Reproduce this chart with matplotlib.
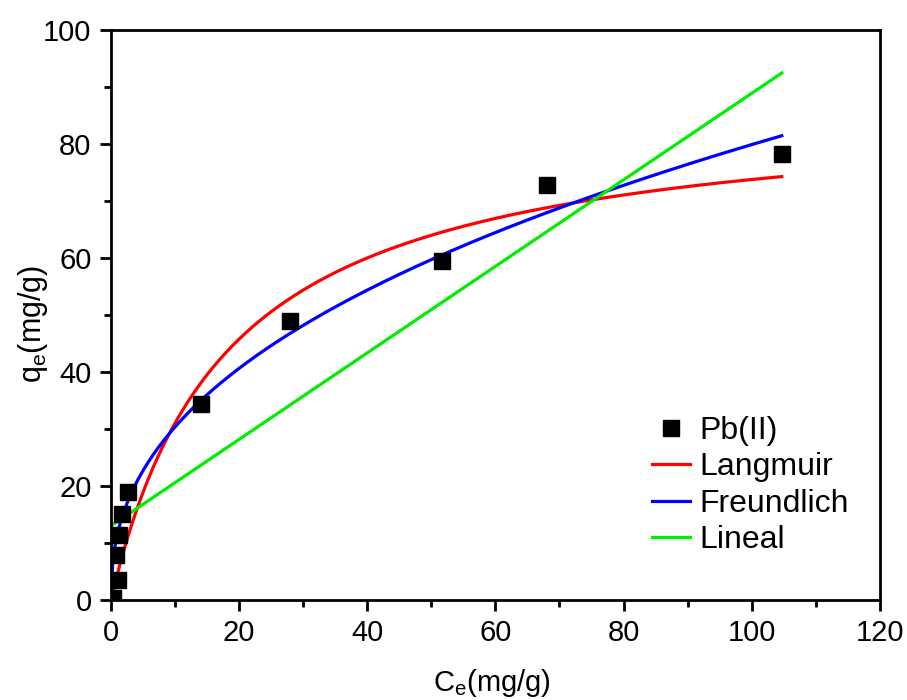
import numpy as np
import matplotlib.pyplot as plt

plt.rcParams['font.family'] = ['Liberation Sans', 'DejaVu Sans']
plt.rcParams['mathtext.fontset'] = 'custom'
plt.rcParams['mathtext.rm'] = 'Liberation Sans'

# === DATA ===
ce = [0.3, 1.1, 0.8, 1.2, 1.7, 2.65, 14.0, 27.9, 51.7, 68.1, 104.7]
qe = [0.4, 3.5, 7.9, 11.4, 15.1, 18.9, 34.4, 48.9, 59.5, 72.8, 78.2]

# fitted model parameters
langmuir_qmax = 87.1
langmuir_kl = 0.0554
freundlich_kf = 11.55
freundlich_inv_n = 0.42
lineal_intercept = 13.0
lineal_slope = 0.759

# === MODEL CURVES ===
c_fit = np.linspace(0, max(ce), 400)
q_lang = langmuir_qmax * langmuir_kl * c_fit / (1 + langmuir_kl * c_fit)
q_freu = freundlich_kf * c_fit ** freundlich_inv_n
q_lin = lineal_intercept + lineal_slope * c_fit

# === PLOT ===
fig = plt.figure(figsize=(9.07, 7.0), dpi=100)
ax = fig.add_axes([0.1224, 0.1429, 0.8476, 0.8141])

ax.plot(ce, qe, 's', color='black', markersize=11, label='Pb(II)', zorder=3)
ax.plot(c_fit, q_lang, color='#ff0000', lw=2.3, label='Langmuir')
ax.plot(c_fit, q_freu, color='#0000ff', lw=2.3, label='Freundlich')
ax.plot(c_fit, q_lin, color='#00ee00', lw=2.3, label='Lineal')

ax.set_xlim(0, 120)
ax.set_ylim(0, 100)
ax.set_xticks(np.arange(0, 121, 20))
ax.set_xticks(np.arange(10, 120, 20), minor=True)
ax.set_yticks(np.arange(0, 101, 20))
ax.set_yticks(np.arange(10, 100, 20), minor=True)
ax.tick_params(which='major', direction='out', length=8, width=2, labelsize=21, pad=6)
ax.tick_params(which='minor', direction='out', length=5, width=2)
for s in ax.spines.values():
    s.set_linewidth(2)

ax.set_xlabel(r'C$_\mathrm{e}$(mg/g)', fontsize=21)
ax.set_ylabel(r'q$_\mathrm{e}$(mg/g)', fontsize=22)
ax.xaxis.set_label_coords(0.495, -0.118)
ax.yaxis.set_label_coords(-0.08, 0.484)

ax.legend(loc='lower right', bbox_to_anchor=(0.985, 0.045), frameon=False, fontsize=23,
          handlelength=1.2, handletextpad=0.3, labelspacing=0.2, borderaxespad=0.2)

plt.savefig('out.png', dpi=100)
